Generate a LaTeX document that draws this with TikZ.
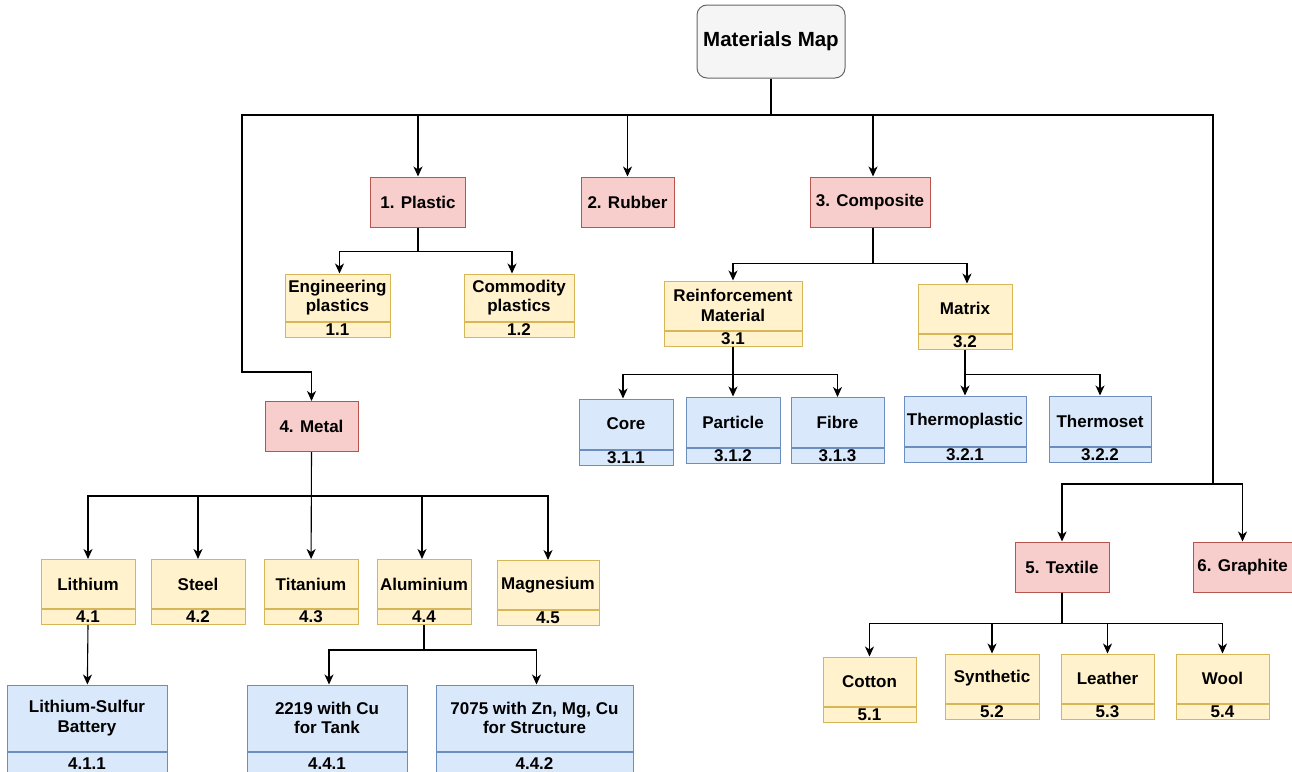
\documentclass[tikz,border=0pt]{standalone}
\usepackage{fontspec}
\setmainfont{Liberation Sans}
\usetikzlibrary{arrows.meta,positioning}
\definecolor{rootfill}{HTML}{F5F5F5}
\definecolor{rootline}{HTML}{666666}
\definecolor{catfill}{HTML}{F8CECC}
\definecolor{catline}{HTML}{B85450}
\definecolor{subfill}{HTML}{FFF2CC}
\definecolor{subline}{HTML}{D6B656}
\definecolor{leaffill}{HTML}{DAE8FC}
\definecolor{leafline}{HTML}{6C8EBF}

\begin{document}
\begin{tikzpicture}[x=1pt,y=-1pt,
        every node/.style={font=\fontsize{17}{19.5}\selectfont\bfseries,
                           align=center,line width=1pt},
        rootbox/.style={draw=rootline,fill=rootfill,rounded corners=10pt,
                        minimum width=148,minimum height=73,
                        font=\fontsize{20.5}{24}\selectfont\bfseries},
        cat/.style={draw=catline,fill=catfill,minimum width=#1,minimum height=50},
        sub/.style={draw=subline,fill=subfill,minimum width=#1,minimum height=49,inner sep=1pt},
        leaf/.style={draw=leafline,fill=leaffill,minimum width=#1,minimum height=50,inner sep=1pt},
        num/.style={minimum height=15,inner sep=0pt,below=0pt of #1},
        arr/.style={-{Stealth[length=10pt,width=9pt,inset=3pt]},line width=1.1pt}]
  \clip (0,0) rectangle (1292,771);
  \fill[white] (0,0) rectangle (1292,771);

  % root and main categories
  \node[rootbox] (root) at (771,41.5) {Materials Map};
  \node[cat=95] (plastic) at (418,202) {1. Plastic};
  \node[cat=93] (rubber) at (627.5,202) {2. Rubber};
  \node[cat=120] (composite) at (870,202) {3. Composite};
  \node[cat=93] (metal) at (311.5,426.5) {4. Metal};
  \node[cat=94] (textile) at (1062,567) {5. Textile};
  \node[cat=99] (graphite) at (1242.5,567) {6. Graphite};

  % plastics
  \node[sub=105,minimum height=47] (eng) at (337.5,297.5) {Engineering\\plastics};
  \node[sub=105,num=eng] (engn) {1.1};
  \node[sub=110,minimum height=47] (com) at (519,297.5) {Commodity\\plastics};
  \node[sub=110,num=com] (comn) {1.2};

  % composites
  \node[sub=138] (rein) at (733,305.5) {Reinforcement\\Material};
  \node[sub=138,num=rein] (reinn) {3.1};
  \node[sub=94] (matrix) at (965,308.5) {Matrix};
  \node[sub=94,num=matrix] (matrixn) {3.2};
  \node[leaf=94] (core) at (626,424) {Core};
  \node[leaf=94,num=core] (coren) {3.1.1};
  \node[leaf=94] (particle) at (733,422) {Particle};
  \node[leaf=94,num=particle] (particlen) {3.1.2};
  \node[leaf=93] (fibre) at (837.5,422.5) {Fibre};
  \node[leaf=93,num=fibre] (fibren) {3.1.3};
  \node[leaf=122] (thplast) at (965,421) {Thermoplastic};
  \node[leaf=122,num=thplast] (thplastn) {3.2.1};
  \node[leaf=102] (thset) at (1100,421) {Thermoset};
  \node[leaf=102,num=thset] (thsetn) {3.2.2};

  % metals
  \node[sub=94] (lith) at (88,584) {Lithium};
  \node[sub=94,num=lith] (lithn) {4.1};
  \node[sub=94] (steel) at (198,584) {Steel};
  \node[sub=94,num=steel] (steeln) {4.2};
  \node[sub=94] (titan) at (311,584) {Titanium};
  \node[sub=94,num=titan] (titann) {4.3};
  \node[sub=94] (alu) at (424,584) {Aluminium};
  \node[sub=94,num=alu] (alun) {4.4};
  \node[sub=102] (magn) at (548,585) {Magnesium};
  \node[sub=102,num=magn] (magnn) {4.5};
  \node[leaf=160,minimum height=66] (lis) at (87,718) {Lithium-Sulfur\\Battery};
  \node[leaf=160,num=lis,minimum height=24] (lisn) {4.1.1};
  \node[leaf=160,minimum height=66] (tank) at (327,718) {2219 with Cu\\for Tank};
  \node[leaf=160,num=tank,minimum height=24] (tankn) {4.4.1};
  \node[leaf=197,minimum height=66] (struct) at (534.5,718) {7075 with Zn, Mg, Cu\\for Structure};
  \node[leaf=197,num=struct,minimum height=24] (structn) {4.4.2};

  % textiles
  \node[sub=93] (cotton) at (869.5,681.5) {Cotton};
  \node[sub=93,num=cotton] (cottonn) {5.1};
  \node[sub=94] (synth) at (992,678.5) {Synthetic};
  \node[sub=94,num=synth] (synthn) {5.2};
  \node[sub=93] (leather) at (1107.5,678.5) {Leather};
  \node[sub=93,num=leather] (leathern) {5.3};
  \node[sub=93] (wool) at (1222.5,678.5) {Wool};
  \node[sub=93,num=wool] (wooln) {5.4};

  % connectors
  \coordinate (bus) at (771,115);
  \coordinate (tbus) at (1213,484);
  \draw[line width=2.8pt] (root) -- (bus);
  \draw[arr] (bus) -| (plastic);
  \draw[arr] (bus) -| (rubber);
  \draw[arr] (bus) -| ([xshift=3pt]composite.north);
  \draw[arr] (bus) -| (242,372) -| (metal);
  \draw[line width=1.1pt] (bus) -| (tbus);
  \draw[arr] (tbus) -| (textile);
  \draw[arr] (tbus) -| (graphite);

  \draw[arr] (plastic.south) -- ++(0,24) -| ([xshift=2pt]eng.north);
  \draw[arr] (plastic.south) -- ++(0,24) -| ([xshift=-7pt]com.north);

  \draw[arr] ([xshift=3pt]composite.south) -- ++(0,36) -| (rein.north);
  \draw[arr] ([xshift=3pt]composite.south) -- ++(0,36) -| ([xshift=2pt]matrix.north);
  \draw[arr] (reinn.south) -- (particle);
  \draw[arr] (reinn.south) -- ++(0,28) -| ([xshift=-3pt]core.north);
  \draw[arr] (reinn.south) -- ++(0,28) -| (fibre.north);
  \draw[arr] (matrixn.south) -- (thplast);
  \draw[arr] (matrixn.south) -- ++(0,25) -| (thset.north);

  \draw[arr] (metal.south) -- ++(0,44) -| (lith.north);
  \draw[arr] (metal.south) -- ++(0,44) -| (steel.north);
  \draw[arr] (metal.south) -- (titan);
  \draw[arr] (metal.south) -- ++(0,44) -| ([xshift=-2pt]alu.north);
  \draw[arr] (metal.south) -- ++(0,44) -| (magn.north);
  \draw[arr] (lithn.south) -- (lis);
  \draw[arr] (alun.south) -- ++(0,25) -| ([xshift=2pt]tank.north);
  \draw[arr] (alun.south) -- ++(0,25) -| ([xshift=2pt]struct.north);

  \draw[arr] (textile.south) -- ++(0,31) -| (cotton.north);
  \draw[arr] (textile.south) -- ++(0,31) -| (synth.north);
  \draw[arr] (textile.south) -- ++(0,31) -| (leather.north);
  \draw[arr] (textile.south) -- ++(0,31) -| (wool.north);
\end{tikzpicture}
\end{document}
